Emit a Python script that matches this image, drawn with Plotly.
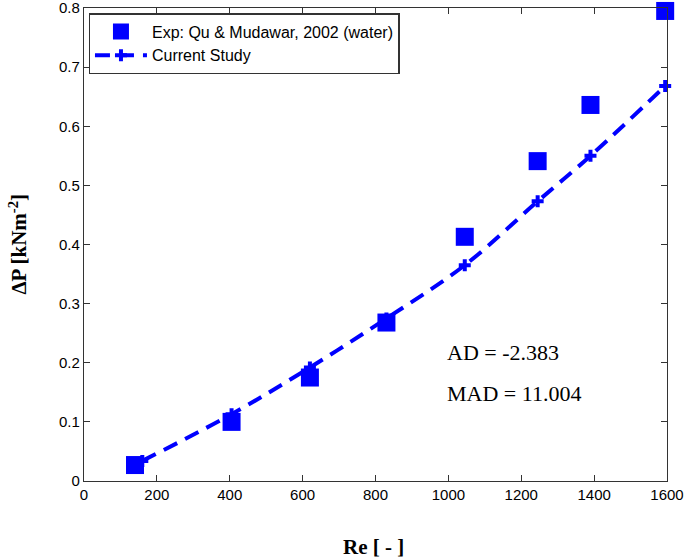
import plotly.graph_objects as go

re_exp = [140, 405, 620, 830, 1045, 1245, 1390, 1595]
dp_exp = [0.027, 0.100, 0.175, 0.268, 0.413, 0.541, 0.636, 0.795]

re_cur = [160, 405, 620, 830, 1045, 1245, 1390, 1595]
dp_cur = [0.034, 0.113, 0.192, 0.275, 0.365, 0.473, 0.550, 0.668]

x_ticks = [0, 200, 400, 600, 800, 1000, 1200, 1400, 1600]
y_ticks = [0, 0.1, 0.2, 0.3, 0.4, 0.5, 0.6, 0.7, 0.8]
y_tick_text = ["0", "0.1", "0.2", "0.3", "0.4", "0.5", "0.6", "0.7", "0.8"]

blue = "#0000ff"
serif = "Liberation Serif, Times New Roman"
sans = "Liberation Sans, Arial"

fig = go.Figure()
fig.add_trace(go.Scatter(
    x=re_exp, y=dp_exp, mode="markers",
    name="Exp: Qu &amp; Mudawar, 2002 (water)",
    marker=dict(symbol="square", size=18, color=blue),
    cliponaxis=False,
))
fig.add_trace(go.Scatter(
    x=re_cur, y=dp_cur, mode="lines+markers",
    name="Current Study",
    line=dict(color=blue, width=4, dash="15px,9px", shape="spline"),
    marker=dict(symbol="cross", size=10, color=blue),
    cliponaxis=False,
))

axis_common = dict(
    showgrid=False, zeroline=False, showline=True, linecolor="#333333", linewidth=1.3,
    mirror="ticks", ticks="inside", ticklen=6, tickcolor="#333333", automargin=False,
    ticklabeloverflow="allow",
    tickfont=dict(family=sans, size=15, color="black"),
)
fig.update_layout(
    width=685, height=559,
    margin=dict(l=84, r=18, t=8, b=78),
    plot_bgcolor="white", paper_bgcolor="white",
    xaxis=dict(range=[0, 1600], tickvals=x_ticks, **axis_common),
    yaxis=dict(range=[0, 0.8], tickvals=y_ticks, ticktext=y_tick_text, **axis_common),
    legend=dict(x=0.008, y=0.989, xanchor="left", yanchor="top",
                bordercolor="#333333", borderwidth=1.3, bgcolor="white",
                font=dict(family=sans, size=16, color="black"),
                tracegroupgap=0, itemwidth=52),
    showlegend=True,
)
# axis titles
fig.add_annotation(x=0.497, y=-0.14, xref="paper", yref="paper", yanchor="middle",
                   text="<b>Re [ - ]</b>", showarrow=False,
                   font=dict(family=serif, size=21, color="black"))
fig.add_annotation(x=-0.113, y=0.5, xref="paper", yref="paper", xanchor="center",
                   yanchor="middle",
                   text="<b>ΔP [kNm<sup>-2</sup>]</b>", showarrow=False, textangle=-90,
                   font=dict(family=serif, size=21, color="black"))
fig.add_annotation(x=0.62, y=0.272, xref="paper", yref="paper", xanchor="left",
                   yanchor="middle",
                   text="AD = -2.383", showarrow=False,
                   font=dict(family=serif, size=22, color="black"))
fig.add_annotation(x=0.62, y=0.184, xref="paper", yref="paper", xanchor="left",
                   yanchor="middle",
                   text="MAD = 11.004", showarrow=False,
                   font=dict(family=serif, size=22, color="black"))
fig.write_html("out.html", config={"displayModeBar": False},
               post_script="document.body.style.margin='0px';")
